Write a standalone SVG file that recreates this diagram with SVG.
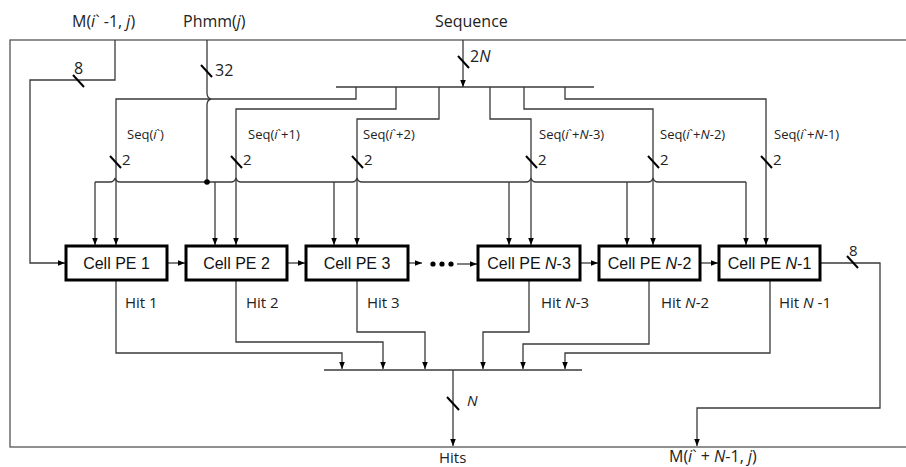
<svg xmlns="http://www.w3.org/2000/svg" width="906" height="467" viewBox="0 0 906 467">
<style>
.w{fill:none;stroke:#3a3a3a;stroke-width:1.3}
.a{marker-end:url(#arr)}
.s{stroke:#000;stroke-width:2;fill:none}
.cell{fill:#fff;stroke:#000;stroke-width:3}
.ct{font-family:"Liberation Sans",Arial,sans-serif;font-size:16px;fill:#111;text-anchor:middle}
.t{font-family:"Open Sans","Noto Sans",sans-serif;fill:#222}
.big{font-size:16px}
.med{font-size:15px}
.sm{font-size:13px}
.i{font-style:italic}
</style>
<defs>
<marker id="arr" viewBox="0 0 10 10" refX="10" refY="5" markerWidth="7" markerHeight="7" markerUnits="userSpaceOnUse" orient="auto"><path d="M0,1 L10,5 L0,9 z" fill="#000"/></marker>
</defs>
<rect width="906" height="467" fill="#fff"/>
<rect x="10" y="40" width="910" height="407" fill="none" stroke="#555" stroke-width="1.3"/>

<g id="connectors">
<path class="w a" d="M115,40 V80 H30 V263 H65"/>
<path class="w" d="M207,40 V93 Q207,98 211,99 Q207,100 207,105 V182"/>
<path class="w" d="M95,182 H110 Q114,182 115,178 Q116,182 120,182 H231 Q235,182 236,178 Q237,182 241,182 H352 Q356,182 357,178 Q358,182 362,182 H526 Q530,182 531,178 Q532,182 536,182 H648 Q652,182 653,178 Q654,182 658,182 H746"/>
<path class="w a" d="M95,182 V245"/>
<path class="w a" d="M215,182 V245"/>
<path class="w a" d="M334,182 V245"/>
<path class="w a" d="M509,182 V245"/>
<path class="w a" d="M627,182 V245"/>
<path class="w a" d="M746,182 V245"/>
<circle cx="207" cy="182" r="2.8" fill="#000"/>
<path class="w a" d="M463,40 V87"/>
<path class="w" d="M336,87 H594"/>
<path class="w a" d="M356,87 V99 H116 V245"/>
<path class="w a" d="M396,87 V109 H236 V245"/>
<path class="w a" d="M439,87 V119 H357 V245"/>
<path class="w a" d="M490,87 V119 H531 V245"/>
<path class="w a" d="M524,87 V109 H653 V245"/>
<path class="w a" d="M565,87 V99 H766 V245"/>
<path class="w a" d="M167,263 H185"/>
<path class="w a" d="M287,263 H305"/>
<path class="w a" d="M408,263 H422"/>
<circle cx="433" cy="264" r="2.6" fill="#000"/>
<circle cx="442" cy="264" r="2.6" fill="#000"/>
<circle cx="451" cy="264" r="2.6" fill="#000"/>
<path class="w a" d="M457,264 H477"/>
<path class="w a" d="M580,263 H598"/>
<path class="w a" d="M700,263 H718"/>
<path class="w a" d="M820,263 H880 V408 H697 V446"/>
<path class="w a" d="M116,280 V353 H342 V369"/>
<path class="w a" d="M236,280 V342 H383 V369"/>
<path class="w a" d="M357,280 V332 H425 V369"/>
<path class="w a" d="M529,280 V332 H483 V369"/>
<path class="w a" d="M649,280 V344 H523 V369"/>
<path class="w a" d="M770,280 V353 H565 V369"/>
<path class="w" d="M324,370 H582"/>
<path class="w a" d="M453,370 V446"/>
<path class="s" d="M73,75 L84,87"/>
<path class="s" d="M201,65 L212,77"/>
<path class="s" d="M458,56 L469,68"/>
<path class="s" d="M110,156 L121,168"/>
<path class="s" d="M231,156 L242,168"/>
<path class="s" d="M352,156 L363,168"/>
<path class="s" d="M526,156 L537,168"/>
<path class="s" d="M648,156 L659,168"/>
<path class="s" d="M761,156 L772,168"/>
<path class="s" d="M447,397 L459,410"/>
<path class="s" d="M847,256 L858,268"/>
</g>

<g id="cell1"><rect class="cell" x="66" y="246" width="101" height="34"/><text class="ct" x="116.5" y="269">Cell PE 1</text></g>
<g id="cell2"><rect class="cell" x="186" y="246" width="101" height="34"/><text class="ct" x="236.5" y="269">Cell PE 2</text></g>
<g id="cell3"><rect class="cell" x="306" y="246" width="102" height="34"/><text class="ct" x="357" y="269">Cell PE 3</text></g>
<g id="cellN3"><rect class="cell" x="478" y="246" width="102" height="34"/><text class="ct" x="529" y="269">Cell PE <tspan class="i">N</tspan>-3</text></g>
<g id="cellN2"><rect class="cell" x="599" y="246" width="101" height="34"/><text class="ct" x="649.5" y="269">Cell PE <tspan class="i">N</tspan>-2</text></g>
<g id="cellN1"><rect class="cell" x="719" y="246" width="101" height="34"/><text class="ct" x="769.5" y="269">Cell PE <tspan class="i">N</tspan>-1</text></g>

<g id="labels">
<text class="t big" x="72" y="27">M(<tspan class="i">i</tspan>` -1, <tspan class="i">j</tspan>)</text>
<text class="t big" x="183" y="27">Phmm(<tspan class="i">j</tspan>)</text>
<text class="t big" x="435" y="27">Sequence</text>
<text class="t big" x="74" y="74">8</text>
<text class="t big" x="215" y="76">32</text>
<text class="t big" x="470" y="62">2<tspan class="i">N</tspan></text>
<text class="t sm" x="127" y="139">Seq(<tspan class="i">i</tspan>`)</text>
<text class="t sm" x="248" y="139">Seq(<tspan class="i">i</tspan>`+1)</text>
<text class="t sm" x="363" y="139">Seq(<tspan class="i">i</tspan>`+2)</text>
<text class="t sm" x="539" y="139">Seq(<tspan class="i">i</tspan>`+<tspan class="i">N</tspan>-3)</text>
<text class="t sm" x="660" y="139">Seq(<tspan class="i">i</tspan>`+<tspan class="i">N</tspan>-2)</text>
<text class="t sm" x="774" y="139">Seq(<tspan class="i">i</tspan>`+<tspan class="i">N</tspan>-1)</text>
<text class="t med" x="122" y="165">2</text>
<text class="t med" x="243" y="165">2</text>
<text class="t med" x="364" y="165">2</text>
<text class="t med" x="538" y="165">2</text>
<text class="t med" x="660" y="165">2</text>
<text class="t med" x="773" y="165">2</text>
<text class="t med" x="125" y="308">Hit 1</text>
<text class="t med" x="246" y="308">Hit 2</text>
<text class="t med" x="367" y="308">Hit 3</text>
<text class="t med" x="541" y="308">Hit <tspan class="i">N</tspan>-3</text>
<text class="t med" x="661" y="308">Hit <tspan class="i">N</tspan>-2</text>
<text class="t med" x="779" y="308">Hit <tspan class="i">N</tspan> -1</text>
<text class="t med i" x="467" y="406">N</text>
<text class="t med" x="849" y="256">8</text>
<text class="t med" x="439" y="463">Hits</text>
<text class="t big" x="669" y="462">M(<tspan class="i">i</tspan>` + <tspan class="i">N</tspan>-1, <tspan class="i">j</tspan>)</text>
</g>
</svg>
